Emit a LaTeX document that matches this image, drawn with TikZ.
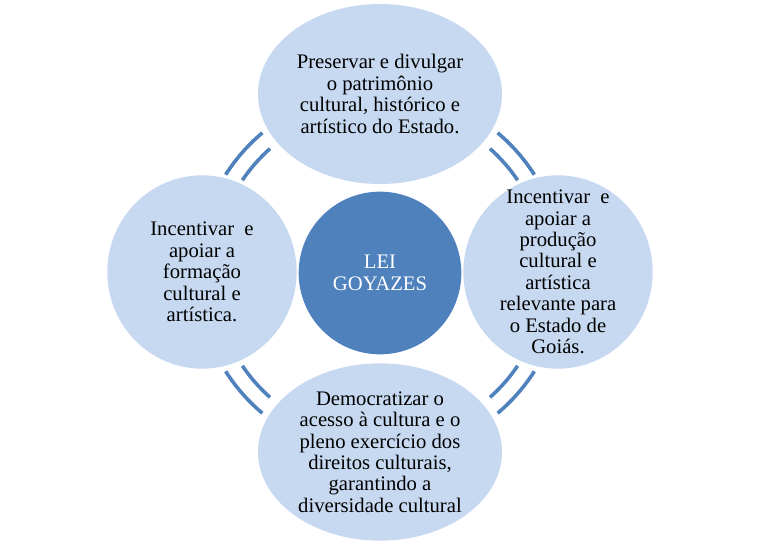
\documentclass[tikz,border=0pt]{standalone}
\usepackage{fontspec}
\setmainfont{Liberation Serif}
\usetikzlibrary{shapes.geometric}
\definecolor{lightfill}{HTML}{C6D9F0}
\definecolor{darkfill}{HTML}{4F81BD}
\begin{document}
\begin{tikzpicture}[x=0.75pt,y=-0.75pt,
  outer/.style={ellipse, fill=lightfill, inner sep=0pt},
  txt/.style={align=center, inner sep=0pt, font=\fontsize{15.5}{16.1}\selectfont},
  hub/.style={circle, fill=darkfill, inner sep=0pt, minimum size=122pt},
  link/.style={draw=darkfill, line width=2.7pt}]
\useasboundingbox (0,0) rectangle (761,545);
\coordinate (mid) at (380,273);
% connector arcs
\foreach \a in {32.5,130,212.5,310}{
  \draw[link] (mid) ++(\a:183) arc[start angle=\a, end angle=\a+17.5, radius=183];
  \draw[link] (mid) ++(\a+1.5:166) arc[start angle=\a+1.5, end angle=\a+16, radius=166];
}
\node[outer, minimum width=183pt, minimum height=135pt,
  label={[txt]center:{Preservar e divulgar\\o patrimônio\\cultural, histórico e\\artístico do Estado.}}] (top) at (380,94) {};
\node[outer, minimum width=183pt, minimum height=133pt,
  label={[txt]center:{Democratizar o\\acesso à cultura e o\\pleno exercício dos\\direitos culturais,\\garantindo a\\diversidade cultural}}] (bottom) at (380,452) {};
\node[outer, minimum width=142pt, minimum height=145pt,
  label={[txt]center:{Incentivar~ e\\apoiar a\\formação\\cultural e\\artística.}}] (left) at (202,272) {};
\node[outer, minimum width=142pt, minimum height=145pt,
  label={[txt]center:{Incentivar~ e\\apoiar a\\produção\\cultural e\\artística\\relevante para\\o Estado de\\Goiás.}}] (right) at (558,272) {};
\node[hub, label={[txt, text=white]center:{LEI\\GOYAZES}}] (hub) at (mid) {};
\end{tikzpicture}
\end{document}
